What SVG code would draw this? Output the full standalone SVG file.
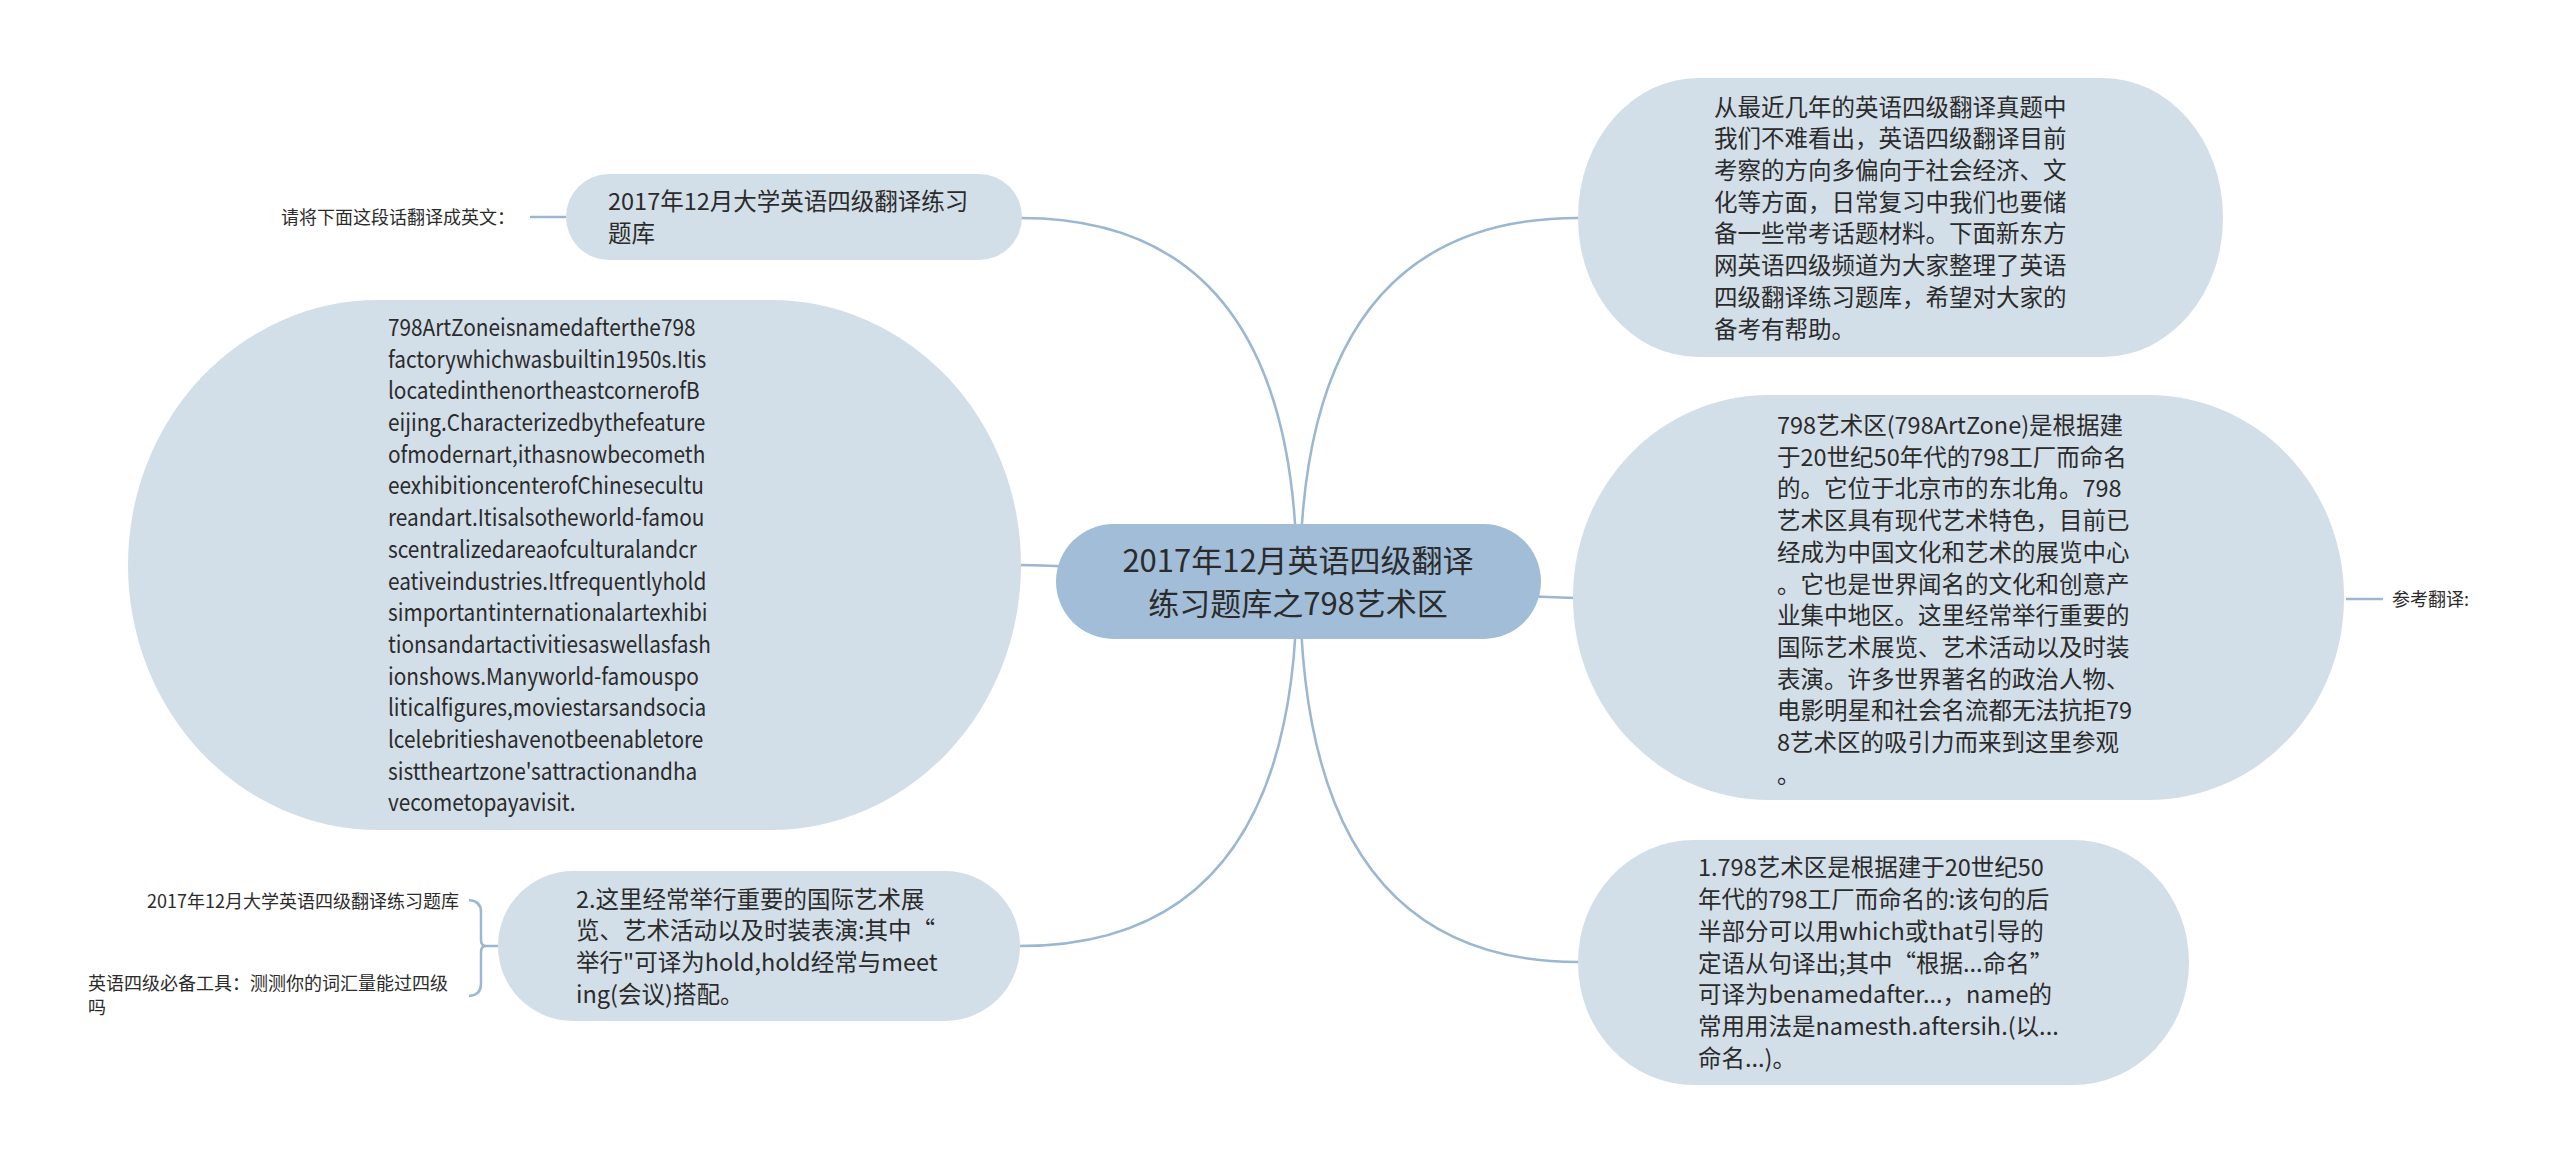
<svg xmlns="http://www.w3.org/2000/svg" width="2560" height="1164" viewBox="0 0 2560 1164">
<style>
text{font-family:"Noto Sans CJK SC","Noto Sans",sans-serif;fill:#2b2b2b}
.t{font-size:23.5px}
.c{font-size:31px;text-anchor:middle}
.s{font-size:18px}
.sub{fill:#d3dfe8}
.root{fill:#a1bdd8}
.ln{fill:none;stroke:#9bb7d1;stroke-width:2.5}
</style>
<rect width="2560" height="1164" fill="#ffffff"/>
<g id="connectors">
<path class="ln" d="M1297 582 Q1297 218 1021 218"/>
<path class="ln" d="M1300 582 Q1300 218 1578 218"/>
<path class="ln" d="M1298 582 C1200 582 1100 565 1020 565"/>
<path class="ln" d="M1298 582 C1400 582 1500 598 1578 598"/>
<path class="ln" d="M1297 582 Q1297 946 1020 946"/>
<path class="ln" d="M1300 582 Q1300 962 1578 962"/>
<path class="ln" d="M530 217 L566 217"/>
<path class="ln" d="M2346 599 L2383 599"/>
<path class="ln" d="M498 946 L486 946 Q481 946 481 940 L481 912 Q481 901 469 900"/>
<path class="ln" d="M486 946 Q481 946 481 952 L481 984 Q481 995 469 996"/>
</g>
<g id="root">
<rect class="root" x="1056" y="524" width="485" height="115" rx="57.5" ry="57.5"/>
<text class="c" x="1298" y="572">2017年12月英语四级翻译</text>
<text class="c" x="1298" y="615">练习题库之798艺术区</text>
</g>
<g id="node-r1">
<rect class="sub" x="1578" y="78" width="645" height="279" rx="120" ry="139"/>
<text class="t" x="1714" y="115.6">从最近几年的英语四级翻译真题中</text>
<text class="t" x="1714" y="147.3">我们不难看出，英语四级翻译目前</text>
<text class="t" x="1714" y="179">考察的方向多偏向于社会经济、文</text>
<text class="t" x="1714" y="210.7">化等方面，日常复习中我们也要储</text>
<text class="t" x="1714" y="242.4">备一些常考话题材料。下面新东方</text>
<text class="t" x="1714" y="274.1">网英语四级频道为大家整理了英语</text>
<text class="t" x="1714" y="305.8">四级翻译练习题库，希望对大家的</text>
<text class="t" x="1714" y="337.5">备考有帮助。</text>
</g>
<g id="node-r2">
<rect class="sub" x="1573" y="395" width="771" height="405" rx="195" ry="202"/>
<text class="t" x="1777" y="434">798艺术区(798ArtZone)是根据建</text>
<text class="t" x="1777" y="465.7">于20世纪50年代的798工厂而命名</text>
<text class="t" x="1777" y="497.4">的。它位于北京市的东北角。798</text>
<text class="t" x="1777" y="529.1">艺术区具有现代艺术特色，目前已</text>
<text class="t" x="1777" y="560.8">经成为中国文化和艺术的展览中心</text>
<text class="t" x="1777" y="592.5">。它也是世界闻名的文化和创意产</text>
<text class="t" x="1777" y="624.2">业集中地区。这里经常举行重要的</text>
<text class="t" x="1777" y="655.9">国际艺术展览、艺术活动以及时装</text>
<text class="t" x="1777" y="687.6">表演。许多世界著名的政治人物、</text>
<text class="t" x="1777" y="719.3">电影明星和社会名流都无法抗拒79</text>
<text class="t" x="1777" y="751">8艺术区的吸引力而来到这里参观</text>
<text class="t" x="1777" y="782.7">。</text>
</g>
<g id="label-ref">
<text class="s" x="2392" y="605.5">参考翻译:</text>
</g>
<g id="node-r3">
<rect class="sub" x="1578" y="840" width="611" height="245" rx="116" ry="122"/>
<text class="t" x="1698" y="876.4">1.798艺术区是根据建于20世纪50</text>
<text class="t" x="1698" y="908.1">年代的798工厂而命名的:该句的后</text>
<text class="t" x="1698" y="939.8">半部分可以用which或that引导的</text>
<text class="t" x="1698" y="971.5">定语从句译出;其中“根据...命名”</text>
<text class="t" x="1698" y="1003.2">可译为benamedafter...，name的</text>
<text class="t" x="1698" y="1034.9">常用用法是namesth.aftersih.(以...</text>
<text class="t" x="1698" y="1066.6">命名...)。</text>
</g>
<g id="node-l1">
<rect class="sub" x="566" y="174" width="456" height="86" rx="43" ry="43"/>
<text class="t" x="608" y="210">2017年12月大学英语四级翻译练习</text>
<text class="t" x="608" y="242">题库</text>
</g>
<g id="label-l1">
<text class="s" x="281" y="223.5">请将下面这段话翻译成英文：</text>
</g>
<g id="node-l2">
<rect class="sub" x="128" y="300" width="893" height="530" rx="250" ry="265"/>
<g transform="matrix(0.885 0 0 1 44.6 0)">
<text class="t" x="388" y="336">798ArtZoneisnamedafterthe798</text>
<text class="t" x="388" y="367.7">factorywhichwasbuiltin1950s.Itis</text>
<text class="t" x="388" y="399.4">locatedinthenortheastcornerofB</text>
<text class="t" x="388" y="431.1">eijing.Characterizedbythefeature</text>
<text class="t" x="388" y="462.8">ofmodernart,ithasnowbecometh</text>
<text class="t" x="388" y="494.5">eexhibitioncenterofChinesecultu</text>
<text class="t" x="388" y="526.2">reandart.Itisalsotheworld-famou</text>
<text class="t" x="388" y="557.9">scentralizedareaofculturalandcr</text>
<text class="t" x="388" y="589.6">eativeindustries.Itfrequentlyhold</text>
<text class="t" x="388" y="621.3">simportantinternationalartexhibi</text>
<text class="t" x="388" y="653">tionsandartactivitiesaswellasfash</text>
<text class="t" x="388" y="684.7">ionshows.Manyworld-famouspo</text>
<text class="t" x="388" y="716.4">liticalfigures,moviestarsandsocia</text>
<text class="t" x="388" y="748.1">lcelebritieshavenotbeenabletore</text>
<text class="t" x="388" y="779.8">sisttheartzone'sattractionandha</text>
<text class="t" x="388" y="811.5">vecometopayavisit.</text>
</g>
</g>
<g id="node-l3">
<rect class="sub" x="498" y="871" width="522" height="150" rx="75" ry="75"/>
<text class="t" x="576" y="907.5">2.这里经常举行重要的国际艺术展</text>
<text class="t" x="576" y="939.2">览、艺术活动以及时装表演:其中“</text>
<text class="t" x="576" y="970.9">举行"可译为hold,hold经常与meet</text>
<text class="t" x="576" y="1002.6">ing(会议)搭配。</text>
</g>
<g id="label-l3a">
<text class="s" x="459" y="907.5" text-anchor="end">2017年12月大学英语四级翻译练习题库</text>
</g>
<g id="label-l3b">
<text class="s" x="88" y="990">英语四级必备工具：测测你的词汇量能过四级</text>
<text class="s" x="88" y="1014">吗</text>
</g>
</svg>
